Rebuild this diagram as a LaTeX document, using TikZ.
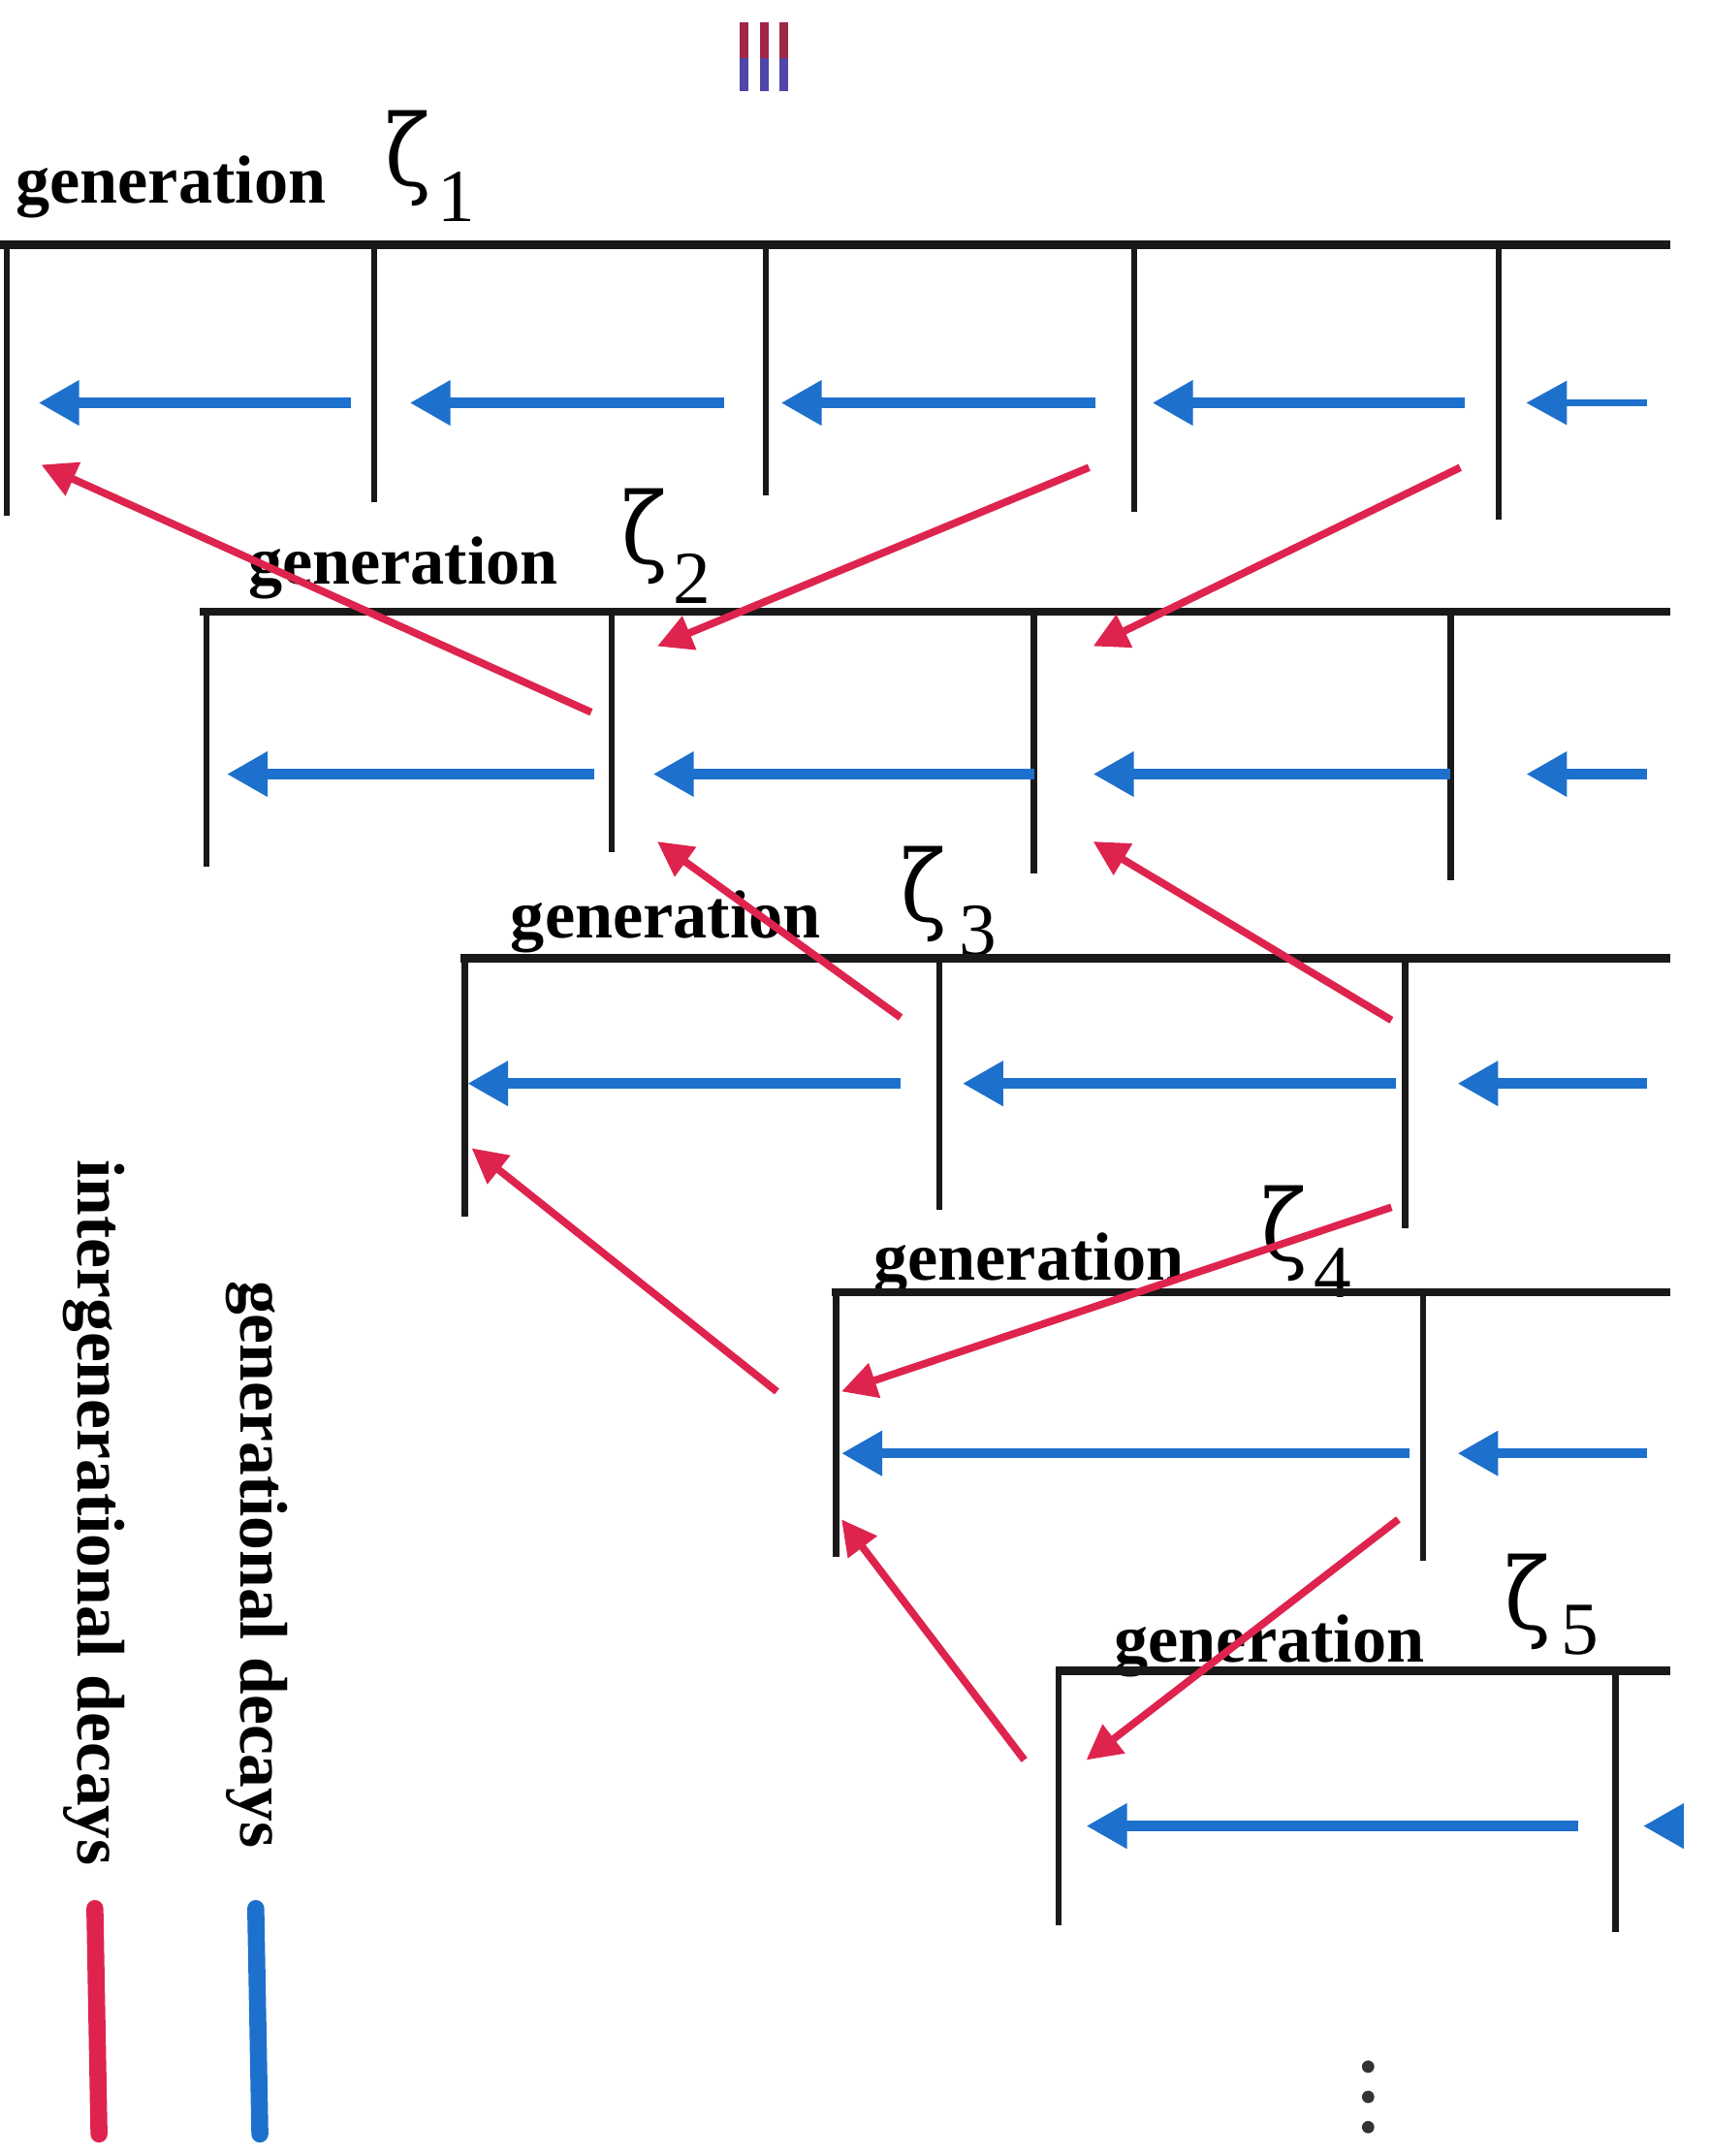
\documentclass[tikz,border=0pt]{standalone}
\usepackage{fontspec}
\newfontfamily\tms{Liberation Serif}
\newfontfamily\dvs{DejaVu Serif}
\usetikzlibrary{arrows.meta}
\definecolor{gblue}{RGB}{30,112,205}
\definecolor{ired}{RGB}{222,36,78}
\definecolor{topred}{RGB}{160,40,70}
\definecolor{topblue}{RGB}{80,70,170}
\newcommand{\tallzeta}{\scalebox{0.85}[1.0]{ζ}}
\begin{document}
\begin{tikzpicture}[x=0.014188cm,y=-0.014188cm,
  topline/.style={line width=2.4pt,black!90},
  wall/.style={line width=1.8pt,black!90},
  gen/.style={-{Triangle[length=0.42cm,width=0.44cm]},line width=3pt,gblue},
  thingen/.style={gen,line width=2pt},
  inter/.style={-{Triangle[length=0.36cm,width=0.36cm]},line width=2.2pt,ired},
  lbl/.style={font=\tms\bfseries\fontsize{20}{24}\selectfont,inner sep=0pt,anchor=base west},
  zlbl/.style={font=\dvs\fontsize{29}{34}\selectfont,inner sep=0pt,anchor=base west},
  sublbl/.style={font=\tms\fontsize{22}{26}\selectfont,inner sep=0pt,anchor=base west},
  leg/.style={font=\tms\bfseries\fontsize{19.8}{24}\selectfont,inner sep=0pt,anchor=base west,rotate=-90},
  legline/.style={line width=5pt,line cap=round}]
\useasboundingbox (0,0) rectangle (1244,1568);

% ---------- row 1
\node[lbl] (t1) at (11,148) {generation};
\node[zlbl] (z1) at (280,135) {\tallzeta};
\node[sublbl] (s1) at (318,161) {1};
\draw[topline] (0,178) -- (1215,178);
\foreach \x/\b in {5/375,272/365,557/360,825/372,1090/378}
  \draw[wall] (\x,178) -- (\x,\b);
\foreach \n/\s/\e in {a/255/28,b/527/298,c/797/568,d/1065/838}{
  \coordinate (g1\n s) at (\s,293); \coordinate (g1\n e) at (\e,293);
  \draw[gen] (g1\n s) -- (g1\n e);}
\coordinate (g1es) at (1198,293); \coordinate (g1ee) at (1110,293);
\draw[thingen] (g1es) -- (g1ee);

% ---------- row 2
\node[lbl] (t2) at (180,425) {generation};
\node[zlbl] (z2) at (452,410) {\tallzeta};
\node[sublbl] (s2) at (489,439) {2};
\draw[topline] (145,445) -- (1215,445);
\foreach \x/\b in {150/630,445/620,752/635,1055/640}
  \draw[wall] (\x,445) -- (\x,\b);
\foreach \n/\s/\e in {a/432/165,b/752/475,c/1055/795,d/1198/1110}{
  \coordinate (g2\n s) at (\s,563); \coordinate (g2\n e) at (\e,563);
  \draw[gen] (g2\n s) -- (g2\n e);}

% ---------- row 3
\node[lbl] (t3) at (371,682) {generation};
\node[zlbl] (z3) at (655,670) {\tallzeta};
\node[sublbl] (s3) at (697,695) {3};
\draw[topline] (335,697) -- (1215,697);
\foreach \x/\b in {338/885,683/880,1022/893}
  \draw[wall] (\x,697) -- (\x,\b);
\foreach \n/\s/\e in {a/655/340,b/1015/700,c/1198/1060}{
  \coordinate (g3\n s) at (\s,788); \coordinate (g3\n e) at (\e,788);
  \draw[gen] (g3\n s) -- (g3\n e);}

% ---------- row 4
\node[lbl] (t4) at (635,931) {generation};
\node[zlbl] (z4) at (917,917) {\tallzeta};
\node[sublbl] (s4) at (955,944) {4};
\draw[topline] (605,940) -- (1215,940);
\foreach \x/\b in {608/1132,1035/1135}
  \draw[wall] (\x,940) -- (\x,\b);
\foreach \n/\s/\e in {a/1025/612,b/1198/1060}{
  \coordinate (g4\n s) at (\s,1057); \coordinate (g4\n e) at (\e,1057);
  \draw[gen] (g4\n s) -- (g4\n e);}

% ---------- row 5
\node[lbl] (t5) at (810,1209) {generation};
\node[zlbl] (z5) at (1094,1185) {\tallzeta};
\node[sublbl] (s5) at (1135,1203) {5};
\draw[topline] (768,1215) -- (1215,1215);
\foreach \x/\b in {770/1400,1175/1405}
  \draw[wall] (\x,1215) -- (\x,\b);
\coordinate (g5as) at (1148,1328); \coordinate (g5ae) at (790,1328);
\draw[gen] (g5as) -- (g5ae);
\coordinate (g5bs) at (1224,1328); \coordinate (g5be) at (1195,1328);
\draw[gen] (g5bs) -- (g5be);

% ---------- intergenerational decays
\foreach \n/\sx/\sy/\ex/\ey in {
  1/430/518/30/338, 2/792/340/478/470, 3/1062/340/795/470,
  4/655/740/478/612, 5/1012/742/795/612, 6/565/1012/343/835,
  7/1012/878/612/1012, 8/1017/1105/790/1280, 9/745/1280/612/1105}{
  \coordinate (i\n s) at (\sx,\sy); \coordinate (i\n e) at (\ex,\ey);
  \draw[inter] (i\n s) -- (i\n e);}

% ---------- legend
\node[leg] (lint) at (57,843) {intergenerational decays};
\node[leg] (lgen) at (175,931) {generational decays};
\coordinate (lr1) at (69,1388); \coordinate (lr2) at (72,1552);
\draw[legline,ired] (lr1) -- (lr2);
\coordinate (lb1) at (186,1388); \coordinate (lb2) at (189,1552);
\draw[legline,gblue] (lb1) -- (lb2);

% ---------- marks
\foreach \x in {541,556,570}{
  \draw[topred,line width=2.6pt] (\x,16) -- (\x,42);
  \draw[topblue,line width=2.6pt] (\x,42) -- (\x,66);}
\foreach \y in {1503,1525,1547}
  \fill[black!80] (995,\y) circle[radius=4.5];
\end{tikzpicture}
\end{document}
